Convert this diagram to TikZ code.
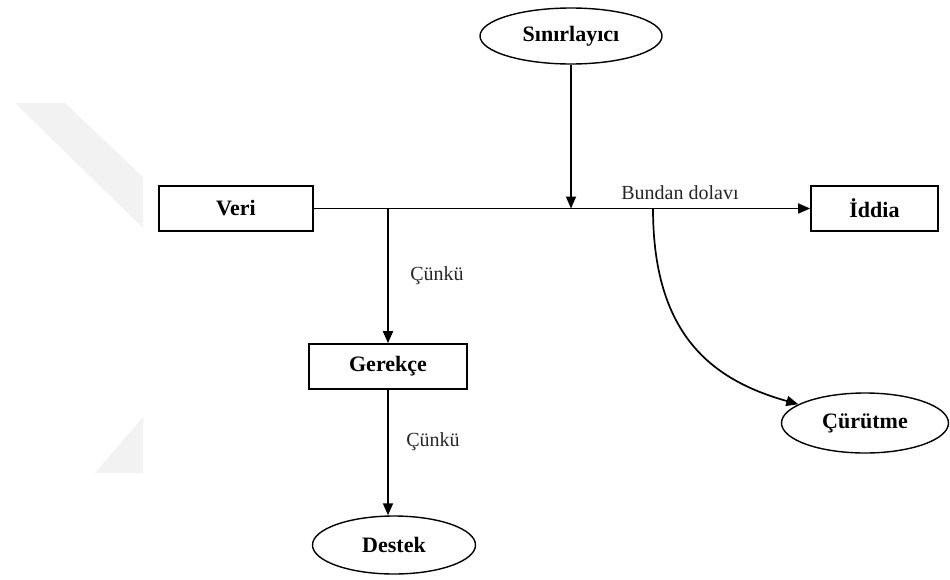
\documentclass[tikz,border=0pt]{standalone}
\usepackage{fontspec}
\setmainfont{Liberation Serif}
\usetikzlibrary{shapes.geometric,arrows.meta}
\begin{document}
\begin{tikzpicture}[x=1pt,y=-1pt,
  line width=1.7pt,
  boxnode/.style={draw,rectangle,inner sep=0pt,font=\fontsize{22}{24}\selectfont\bfseries},
  ellnode/.style={draw,ellipse,inner sep=0pt,line width=1.4pt,font=\fontsize{22}{24}\selectfont\bfseries},
  lbl/.style={inner sep=0pt,font=\fontsize{20}{22}\selectfont,text=black!85},
  arr/.style={-{Triangle[length=12pt,width=10pt]}},
  wm/.style={fill=black!5,draw=none}]
\useasboundingbox (0,0) rectangle (950,579);
% watermark
\fill[wm] (15,103) -- (65,103) -- (143,177) -- (143,228) -- cycle;
\fill[wm] (143,417) -- (143,473) -- (95,473) -- cycle;
% nodes
\node[boxnode,minimum width=154pt,minimum height=45pt] (veri) at (236,208.5) {Veri};
\node[boxnode,minimum width=127pt,minimum height=45pt] (iddia) at (874.5,208.5) {İddia};
\node[boxnode,minimum width=158pt,minimum height=45pt] (gerekce) at (388,366.5) {Gerekçe};
\node[ellnode,minimum width=182pt,minimum height=56pt] (sinir) at (571,36) {Sınırlayıcı};
\node[ellnode,minimum width=163pt,minimum height=58pt] (destek) at (394,545) {Destek};
\node[ellnode,minimum width=167pt,minimum height=60pt] (curu) at (865,423) {Çürütme};
% junctions
\coordinate (j1) at (388,208.5);
\coordinate (j2) at (571,208.5);
\coordinate (j3) at (653,208.5);
% connectors
\draw[arr] (veri.east) -- (iddia.west);
\draw[arr] (sinir.south) -- (j2);
\draw[arr] (j1) -- (gerekce.north);
\draw[arr] (gerekce.south) -- (destek.north -| gerekce.south);
\draw[arr] (j3) .. controls (653,335) and (712,380) .. (curu);
% labels
\node[lbl] (l1) at (680,193) {Bundan dolavı};
\node[lbl] (l2) at (437,276) {Çünkü};
\node[lbl] (l3) at (433,442) {Çünkü};
\end{tikzpicture}
\end{document}
